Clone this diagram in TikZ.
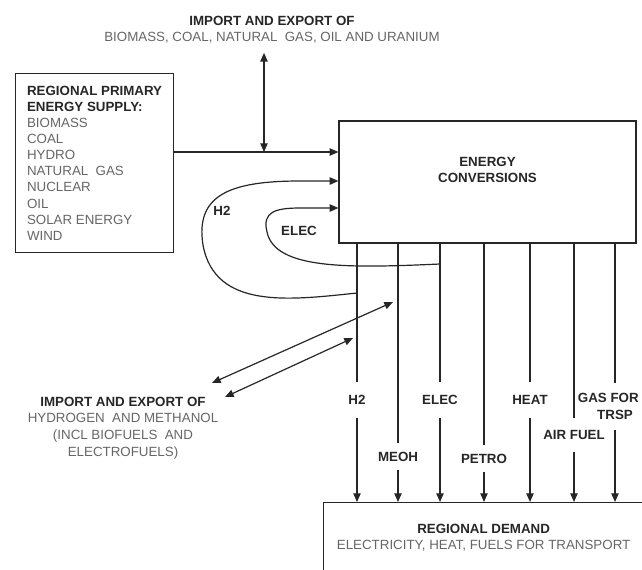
\documentclass[tikz,border=0pt]{standalone}
\usepackage{fontspec}
\setmainfont{Liberation Sans}
\usetikzlibrary{arrows.meta, positioning, calc}

\begin{document}
\begin{tikzpicture}[
      x=0.75pt, y=-0.75pt,
      box/.style={rectangle, draw=black!85, line width=0.9pt},
      hd/.style={font=\fontsize{10}{12.4}\selectfont\bfseries, text=black!85, align=center, inner sep=0pt},
      txt/.style={font=\fontsize{10}{12.4}\selectfont, text=black!60, align=center, inner sep=0pt},
      line/.style={line width=0.9pt, draw=black!85},
      flow/.style={line, -{Triangle[length=6.5pt, width=5.5pt]}},
      dflow/.style={line, {Triangle[length=6.5pt, width=5.5pt]}-{Triangle[length=6.5pt, width=5.5pt]}}
    ]
    \clip (0,0) rectangle (642,569);

    % boxes
    \node[box, txt, font=\fontsize{10}{12.1}\selectfont, align=left, anchor=north west, inner xsep=8.25pt, minimum width=118.5pt, minimum height=134.25pt] (supply) at (15,73)
      {\textcolor{black!85}{\bfseries REGIONAL PRIMARY}\\\textcolor{black!85}{\bfseries ENERGY SUPPLY:}\\BIOMASS\\COAL\\HYDRO\\NATURAL~ GAS\\NUCLEAR\\OIL\\SOLAR ENERGY\\WIND};
    \node[box, minimum width=222.75pt, minimum height=91.5pt] (conv) at (487.5,182) {};
    \node[hd] (convtxt) at (487.5,170) {ENERGY\\CONVERSIONS};
    \node[box, txt, anchor=north west, minimum width=240pt, minimum height=52.5pt] (demand) at (323,502)
      {\textcolor{black!85}{\bfseries REGIONAL DEMAND}\\ELECTRICITY, HEAT, FUELS FOR TRANSPORT};

    % import / export
    \node[txt] (fossil) at (272,29.5) {\textcolor{black!85}{\bfseries IMPORT AND EXPORT OF}\\BIOMASS, COAL, NATURAL~ GAS, OIL AND URANIUM};
    \node[txt, font=\fontsize{10}{12.5}\selectfont] (hyimp) at (123,428) {\textcolor{black!85}{\bfseries IMPORT AND EXPORT OF}\\HYDROGEN~ AND METHANOL\\(INCL BIOFUELS~ AND\\ELECTROFUELS)};

    % inputs to conversions
    \coordinate (tap) at (264,152);
    \draw[flow] (supply.east |- tap) -- (conv.west |- tap);
    \draw[dflow, shorten <=7pt] (fossil.south -| tap) -- (tap);

    % outputs to demand
    \foreach \nm/\x/\y/\h/\t in {h2/357/400/35/H2, meoh/398/456.5/27/MEOH, elec/440/400/35/ELEC, petro/484/458.5/27/PETRO, heat/530/400/35/HEAT, air/574/435/34/AIR FUEL, gas/615/406.5/47/{\hspace*{-10pt}GAS FOR\\TRSP}} {
      \node[hd, minimum height=\h*0.75pt] (\nm) at (\x,\y) {\t};
      \draw[line] (conv.south -| \nm) -- (\nm.north);
      \draw[flow] (\nm.south) -- (demand.north -| \nm);
    }

    % loops back
    \coordinate (h2tap) at (357,293);
    \coordinate (h2in) at (300,181);
    \draw[flow] (h2tap) .. controls (290,300) and (215,310) .. (203,245) .. controls (195,195) and (230,181) .. (h2in) -- (conv.west |- h2in);
    \node[hd] (h2loop) at (222,211) {H2};

    \coordinate (eltap) at (440,264);
    \coordinate (elin) at (300,208);
    \draw[flow] (eltap) .. controls (350,268) and (275,270) .. (267,232) .. controls (262,212) and (275,208) .. (elin) -- (conv.west |- elin);
    \node[hd] (elecloop) at (299,231) {ELEC};

    % hydrogen and methanol trade
    \coordinate (meohtap) at (393,302);
    \coordinate (h2x) at (353,338);
    \coordinate (imp1) at (212,383);
    \coordinate (imp2) at (225,397);
    \draw[dflow] (imp1) -- (meohtap);
    \draw[dflow] (imp2) -- (h2x);
  \end{tikzpicture}
\end{document}
